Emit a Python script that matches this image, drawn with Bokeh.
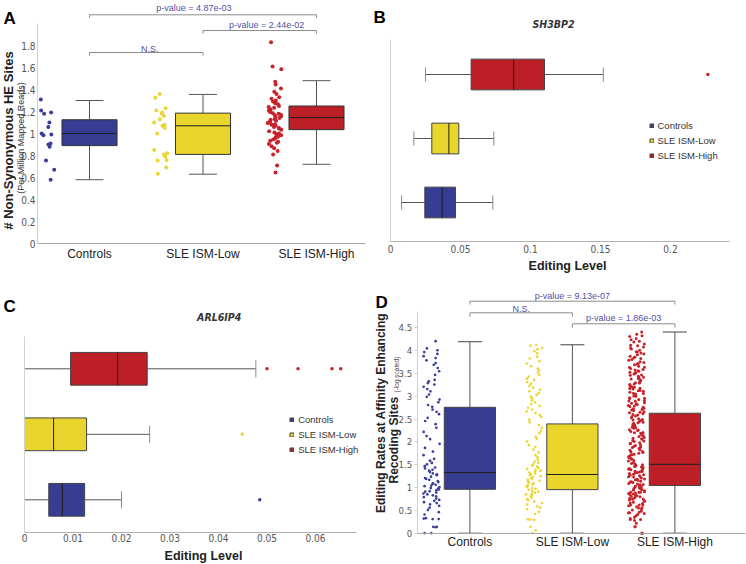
import numpy as np
from bokeh.plotting import figure
from bokeh.models import (FixedTicker, Label, Legend, LegendItem, ColumnDataSource, Range1d,
                          LinearAxis)
from bokeh.layouts import column, row
from bokeh.transform import jitter
from bokeh.embed import file_html
from bokeh.resources import INLINE

# ------------------------------------------------------------------ data
groups = ["Controls", "SLE ISM-Low", "SLE ISM-High"]
group_pos = [1, 2, 3]
box_colors = ["#363d93", "#e9d52c", "#bc2026"]
dot_colors = ["#3b3f99", "#ecd634", "#c8222a"]

# Panel A: non-synonymous HE sites per million mapped reads
a_yticks = [0, 0.2, 0.4, 0.6, 0.8, 1.0, 1.2, 1.4, 1.6, 1.8]
a_ytick_labels = ["0", "0.2", "0.4", "0.6", "0.8", "1", "1.2", "1.4", "1.6", "1.8"]
a_lo = [0.58, 0.63, 0.72]
a_q1 = [0.89, 0.81, 1.035]
a_med = [1.0, 1.07, 1.145]
a_q3 = [1.125, 1.185, 1.25]
a_hi = [1.30, 1.355, 1.48]
a_ctrl = [1.31, 1.19, 1.18, 1.21, 1.10, 1.06, 1.0, 0.99, 0.985, 0.88, 0.90, 0.91, 0.755, 0.67, 0.58]
a_low = [1.36, 1.325, 1.23, 1.21, 1.19, 1.18, 1.16, 1.13, 1.10, 1.08, 1.07, 1.05, 1.0,
         0.85, 0.82, 0.81, 0.79, 0.76, 0.755, 0.69, 0.635]
a_high = [1.83, 1.61, 1.585, 1.47, 1.445, 1.41, 1.38, 1.36, 1.33, 1.315, 1.30, 1.29, 1.275,
          1.265, 1.25, 1.24, 1.235, 1.22, 1.21, 1.20, 1.195, 1.185, 1.18, 1.17, 1.165, 1.155,
          1.15, 1.14, 1.13, 1.125, 1.115, 1.11, 1.10, 1.095, 1.085, 1.08, 1.07, 1.06, 1.05,
          1.045, 1.035, 1.02, 1.01, 1.0, 0.995, 0.985, 0.97, 0.965, 0.955, 0.945, 0.935,
          0.925, 0.915, 0.905, 0.885, 0.865, 0.84, 0.81, 0.71, 0.645]
a_pvalues = ["p-value = 4.87e-03", "p-value = 2.44e-02", "N.S."]

# Panel B: SH3BP2 editing level
b_xticks = [0, 0.05, 0.1, 0.15, 0.2]
b_xtick_labels = ["0", "0.05", "0.1", "0.15", "0.2"]
b_lo = [0.0079, 0.0167, 0.025]
b_q1 = [0.0245, 0.0295, 0.0576]
b_med = [0.0369, 0.0417, 0.088]
b_q3 = [0.0464, 0.0488, 0.110]
b_hi = [0.0731, 0.0738, 0.152]
b_out_group = [3]
b_out_val = [0.2267]

# Panel C: ARL6IP4 editing level
c_xticks = [0, 0.01, 0.02, 0.03, 0.04, 0.05, 0.06]
c_xtick_labels = ["0", "0.01", "0.02", "0.03", "0.04", "0.05", "0.06"]
c_lo = [0.0, 0.0, 0.0]
c_q1 = [0.0050, 0.0, 0.0095]
c_med = [0.0078, 0.0060, 0.0192]
c_q3 = [0.0124, 0.0128, 0.0253]
c_hi = [0.0200, 0.0258, 0.0477]
c_out_group = [1, 2, 3, 3, 3, 3]
c_out_val = [0.0485, 0.0449, 0.0500, 0.0564, 0.0634, 0.0652]

# Panel D: editing rates at affinity enhancing recoding sites (-log scaled)
d_yticks = [0, 0.5, 1, 1.5, 2, 2.5, 3, 3.5, 4, 4.5]
d_ytick_labels = ["0", "0.5", "1", "1.5", "2", "2.5", "3", "3.5", "4", "4.5"]
d_lo = [0.0, 0.0, 0.0]
d_q1 = [0.962, 0.955, 1.045]
d_med = [1.33, 1.287, 1.51]
d_q3 = [2.76, 2.396, 2.63]
d_hi = [4.197, 4.13, 4.41]
d_ctrl = [4.21, 4.05, 4.01, 3.97, 3.93, 3.88, 3.84, 3.79, 3.73, 3.69, 3.62, 3.55, 3.47,
          3.36, 3.33, 3.29, 3.26, 3.21, 3.16, 3.11, 3.04, 2.99, 2.93, 2.87, 2.81, 2.77, 2.71,
          2.66, 2.61, 2.53, 2.46, 2.39, 2.31, 2.22, 2.13, 2.06, 1.96, 1.87, 1.79, 1.71,
          1.63, 1.59, 1.54, 1.51, 1.47, 1.44, 1.42, 1.39, 1.37, 1.34, 1.31, 1.29, 1.27, 1.24,
          1.21, 1.19, 1.17, 1.14, 1.12, 1.09, 1.08, 1.06, 1.04, 1.03, 1.01, 0.99, 0.98, 0.96,
          0.94, 0.92, 0.91, 0.89, 0.87, 0.85, 0.83, 0.81, 0.79, 0.76, 0.73, 0.71, 0.68, 0.66,
          0.63, 0.60, 0.56, 0.51, 0.46, 0.41, 0.33, 0.32, 0.31, 0.31, 0.14, 0.14, 0.13, 0.0, 0.0]
d_low = [4.13, 4.11, 4.06, 4.03, 3.99, 3.94, 3.87, 3.83, 3.77, 3.72, 3.66, 3.61, 3.57, 3.52,
         3.47, 3.43, 3.39, 3.36, 3.31, 3.28, 3.23, 3.19, 3.15, 3.11, 3.07, 3.03, 2.99, 2.96,
         2.91, 2.87, 2.83, 2.79, 2.75, 2.71, 2.67, 2.63, 2.59, 2.55, 2.49, 2.43, 2.37, 2.31,
         2.24, 2.19, 2.11, 2.07, 2.01, 1.93, 1.89, 1.83, 1.77, 1.71, 1.66, 1.61, 1.57, 1.54,
         1.51, 1.48, 1.46, 1.43, 1.41, 1.39, 1.37, 1.35, 1.33, 1.31, 1.29, 1.27, 1.25, 1.23,
         1.21, 1.19, 1.17, 1.15, 1.13, 1.11, 1.09, 1.07, 1.05, 1.03, 1.01, 0.99, 0.97, 0.95,
         0.93, 0.91, 0.89, 0.87, 0.85, 0.83, 0.81, 0.78, 0.75, 0.72, 0.69, 0.66, 0.63, 0.59,
         0.56, 0.53, 0.47, 0.42, 0.31, 0.30, 0.30, 0.29, 0.14, 0.06, 0.0]
d_high = [4.41, 4.36, 4.31, 4.33, 4.27, 4.24, 4.19, 4.21, 4.15, 4.12, 4.08, 4.11, 4.04, 4.06,
          4.01, 3.98, 3.95, 3.97, 3.91, 3.93, 3.88, 3.86, 3.83, 3.84, 3.79, 3.81, 3.76, 3.72,
          3.74, 3.69, 3.71, 3.66, 3.63, 3.64, 3.61, 3.58, 3.59, 3.56, 3.53, 3.55, 3.51, 3.52,
          3.49, 3.47, 3.46, 3.44, 3.42, 3.41, 3.38, 3.39, 3.36, 3.34, 3.35, 3.31, 3.29, 3.30,
          3.27, 3.25, 3.26, 3.22, 3.20, 3.21, 3.18, 3.16, 3.17, 3.13, 3.11, 3.12, 3.09, 3.07,
          3.05, 3.06, 3.02, 3.00, 3.01, 2.97, 2.95, 2.96, 2.93, 2.91, 2.89, 2.90, 2.86, 2.84,
          2.85, 2.82, 2.80, 2.78, 2.79, 2.76, 2.74, 2.73, 2.71, 2.69, 2.70, 2.66, 2.64, 2.65,
          2.62, 2.60, 2.59, 2.57, 2.55, 2.53, 2.51, 2.49, 2.47, 2.48, 2.45, 2.43, 2.41, 2.42,
          2.38, 2.36, 2.37, 2.34, 2.32, 2.30, 2.31, 2.27, 2.25, 2.26, 2.23, 2.21, 2.19, 2.20,
          2.16, 2.14, 2.15, 2.12, 2.10, 2.08, 2.06, 2.07, 2.03, 2.01, 2.02, 1.98, 1.96, 1.97,
          1.94, 1.92, 1.90, 1.88, 1.89, 1.86, 1.84, 1.82, 1.83, 1.79, 1.77, 1.78, 1.75, 1.73,
          1.71, 1.72, 1.68, 1.66, 1.67, 1.64, 1.62, 1.60, 1.58, 1.55, 1.53, 1.51, 1.49, 1.50,
          1.47, 1.46, 1.44, 1.45, 1.42, 1.41, 1.39, 1.40, 1.37, 1.36, 1.34, 1.35, 1.33, 1.31,
          1.32, 1.29, 1.28, 1.26, 1.27, 1.24, 1.23, 1.21, 1.22, 1.19, 1.18, 1.16, 1.17, 1.14,
          1.13, 1.11, 1.12, 1.09, 1.08, 1.06, 1.07, 1.04, 1.03, 1.01, 1.02, 0.99, 0.98, 0.96,
          0.97, 0.94, 0.93, 0.91, 0.90, 0.90, 0.90, 0.88, 0.87, 0.85, 0.86, 0.83, 0.82, 0.80,
          0.81, 0.78, 0.76, 0.75, 0.75, 0.75, 0.73, 0.71, 0.70, 0.68, 0.66, 0.65, 0.62, 0.62,
          0.62, 0.60, 0.58, 0.56, 0.55, 0.53, 0.51, 0.48, 0.46, 0.45, 0.45, 0.43, 0.41, 0.38,
          0.35, 0.32, 0.30, 0.30, 0.28, 0.22, 0.14, 0.14, 0.0, 0.0, 0.0]
d_pvalues = ["p-value = 9.13e-07", "N.S.", "p-value = 1.86e-03"]

# ------------------------------------------------------------------ styling helpers
SANS = "Liberation Sans"
NARROW = "Liberation Sans Narrow, DejaVu Sans Condensed, Roboto Condensed, sans-serif"
TEXT = "#222222"
TICK_TEXT = "#555555"
PCOL = "#5151a3"
BRACKET = "#8c8c8c"


def lin(p0, v0, px_per_unit, flip=False):
    """pixel -> data converter for a linear scale (flip for vertical pixel axis)."""
    s = -1.0 if flip else 1.0
    return lambda px: v0 + s * (px - p0) / px_per_unit


def make_panel(W, H, X, Y):
    """Figure whose frame is its whole canvas; axes are placed with fixed_location."""
    p = figure(width=W, height=H, x_range=Range1d(X(0), X(W)), y_range=Range1d(Y(H), Y(0)),
               min_border=0, min_border_left=0, min_border_right=0, min_border_top=0,
               min_border_bottom=0, x_axis_location=None, y_axis_location=None,
               output_backend="svg", toolbar_location=None, tools="")
    p.outline_line_color = None
    for gr in p.grid:
        gr.visible = False
    p.background_fill_color = "white"
    p.border_fill_color = "white"
    return p


def add_axis(p, side, loc, bounds, ticks, labels, line_color, font, size, color,
             tick_out=0, standoff=3):
    ax = LinearAxis(fixed_location=loc, bounds=bounds)
    ax.ticker = FixedTicker(ticks=ticks, minor_ticks=[])
    ax.major_label_overrides = {t: l for t, l in zip(ticks, labels)}
    ax.axis_line_color = line_color
    ax.axis_line_width = 1
    ax.major_tick_in = 0
    ax.major_tick_out = tick_out
    ax.major_tick_line_color = line_color if tick_out else None
    ax.minor_tick_line_color = None
    ax.major_label_text_font = font
    ax.major_label_text_font_size = size
    ax.major_label_text_color = color
    ax.major_label_standoff = standoff
    p.add_layout(ax, side)
    return ax


def lab(p, X, Y, px, py, text, size, style="normal", font=SANS, color=TEXT, angle=0.0,
        align="center", baseline="middle"):
    p.add_layout(Label(x=X(px), y=Y(py), text=text, text_font=font, text_font_size=size,
                       text_font_style=style, text_color=color, angle=angle,
                       angle_units="rad", text_align=align, text_baseline=baseline))


def vertical_boxes(p, lo, q1, med, q3, hi, width, cap, line_col, whisk_col, cap_col):
    x = np.array(group_pos, dtype=float)
    src = ColumnDataSource(dict(x=x, lo=lo, q1=q1, med=med, q3=q3, hi=hi, color=box_colors,
                                l=x - width / 2, r=x + width / 2, cl=x - cap / 2, cr=x + cap / 2))
    p.segment(x0="x", y0="q3", x1="x", y1="hi", source=src, line_color=whisk_col, line_width=1)
    p.segment(x0="x", y0="lo", x1="x", y1="q1", source=src, line_color=whisk_col, line_width=1)
    p.segment(x0="cl", y0="hi", x1="cr", y1="hi", source=src, line_color=cap_col, line_width=1)
    p.segment(x0="cl", y0="lo", x1="cr", y1="lo", source=src, line_color=cap_col, line_width=1)
    p.vbar(x="x", width=width, bottom="q1", top="q3", source=src, fill_color="color",
           line_color=line_col, line_width=1)
    p.segment(x0="l", y0="med", x1="r", y1="med", source=src, line_color="#1e1e1e", line_width=1)


def horizontal_boxes(p, lo, q1, med, q3, hi, height, cap, line_col, whisk_col, cap_col):
    y = np.array(group_pos, dtype=float)
    src = ColumnDataSource(dict(y=y, lo=lo, q1=q1, med=med, q3=q3, hi=hi, color=box_colors,
                                b=y - height / 2, t=y + height / 2, cb=y - cap / 2, ct=y + cap / 2))
    p.segment(x0="q3", y0="y", x1="hi", y1="y", source=src, line_color=whisk_col, line_width=1)
    p.segment(x0="lo", y0="y", x1="q1", y1="y", source=src, line_color=whisk_col, line_width=1)
    p.segment(x0="hi", y0="cb", x1="hi", y1="ct", source=src, line_color=cap_col, line_width=1)
    p.segment(x0="lo", y0="cb", x1="lo", y1="ct", source=src, line_color=cap_col, line_width=1)
    r = p.hbar(y="y", height=height, left="q1", right="q3", source=src, fill_color="color",
               line_color=line_col, line_width=1)
    p.segment(x0="med", y0="b", x1="med", y1="t", source=src, line_color="#1e1e1e", line_width=1)
    return r


def strip(p, values_per_group, sizes, jit_width, jit_mean):
    xs, ys, cs, ss = [], [], [], []
    for gi, vals in enumerate(values_per_group):
        xs += [group_pos[gi]] * len(vals)
        ys += list(vals)
        cs += [dot_colors[gi]] * len(vals)
        ss += [sizes[gi]] * len(vals)
    src = ColumnDataSource(dict(x=xs, y=ys, c=cs, s=ss))
    p.scatter(x=jitter("x", width=jit_width, mean=jit_mean), y="y", source=src, size="s",
              fill_color="c", line_color=None, marker="circle")


def bracket(p, Y, xa, xb, py_line, py_tick, py_text, x_text, text):
    yl, yt = Y(py_line), Y(py_tick)
    p.segment(x0=[xa, xa, xb], y0=[yl, yl, yl], x1=[xb, xa, xb], y1=[yl, yt, yt],
              line_color=BRACKET, line_width=1)
    p.add_layout(Label(x=x_text, y=Y(py_text), text=text, text_font=SANS, text_font_size="9px",
                       text_color=PCOL, text_align="center", text_baseline="middle"))


def legend(p, renderer, loc):
    items = [LegendItem(label=g, renderers=[renderer], index=i) for i, g in enumerate(groups)]
    lg = Legend(items=items, location=loc, glyph_width=5, glyph_height=5, label_height=12,
                label_width=10, spacing=3, padding=0, margin=0, label_standoff=4,
                border_line_color=None, background_fill_alpha=0,
                label_text_font=SANS, label_text_font_size="9.5px", label_text_color="#333333")
    p.add_layout(lg)


# ------------------------------------------------------------------ panel A (0,0 370x280)
XA = lin(89, 1.0, 113.5)
YA = lin(243, 0.0, 110.0, flip=True)
pA = make_panel(370, 280, XA, YA)
add_axis(pA, "below", 0.0, (XA(37), XA(365)), group_pos, groups, "#a8a8a8", SANS, "12px",
         TEXT, 0, 3)
add_axis(pA, "left", XA(37), (0, 2.0), a_yticks, a_ytick_labels, "#cfcfcf", NARROW, "10px",
         TICK_TEXT, 0, 2)
strip(pA, [a_ctrl, a_low, a_high], [4, 4, 4], 0.12, -0.37)
vertical_boxes(pA, a_lo, a_q1, a_med, a_q3, a_hi, 0.485, 0.246, "#333333", "#555555", "#555555")
bracket(pA, YA, 1, 3, 14.3, 17.3, 7, 1.92, a_pvalues[0])
bracket(pA, YA, 2, 3, 30, 33, 24, 2.56, a_pvalues[1])
bracket(pA, YA, 1, 2, 52, 55, 48, 1.53, a_pvalues[2])
lab(pA, XA, YA, 3, 18.3, "A", "17px", "bold", color="#000000", align="left", baseline="alphabetic")
lab(pA, XA, YA, 7.5, 140, "# Non-Synonymous HE Sites", "13px", "bold", angle=np.pi / 2)
lab(pA, XA, YA, 20.5, 137.5, "(Per Million Mapped Reads)", "9px", color="#333333", angle=np.pi / 2)

# ------------------------------------------------------------------ panel B (370,0 376x280)
XB = lin(20, 0.0, 1400.0)
YB = lin(202, 1.0, 64.0, flip=True)
pB = make_panel(376, 280, XB, YB)
add_axis(pB, "below", YB(241), (0, XB(359)), b_xticks, b_xtick_labels, "#b0b0b0", NARROW,
         "10px", TICK_TEXT, 0, 3)
add_axis(pB, "left", 0.0, (YB(241), YB(39)), [], [], "#d2d2d2", NARROW, "10px", TICK_TEXT, 0, 2)
rB = horizontal_boxes(pB, b_lo, b_q1, b_med, b_q3, b_hi, 0.48, 0.22, "#444444", "#555555", "#8a8a8a")
pB.scatter(x=b_out_val, y=b_out_group, size=3.5, fill_color=dot_colors[2], line_color=None)
legend(pB, rB, (278.5, 118.3))
lab(pB, XB, YB, 3, 17, "B", "17px", "bold", color="#000000", align="left", baseline="alphabetic")
lab(pB, XB, YB, 183, 23.7, "SH3BP2", "10.5px", "bold italic", font=NARROW, color="#333333")
lab(pB, XB, YB, 197, 265, "Editing Level", "12.5px", "bold")

# ------------------------------------------------------------------ panel C (0,280 370x284)
XC = lin(24, 0.0, 4850.0)
YC = lin(219.3, 1.0, 65.5, flip=True)
pC = make_panel(370, 284, XC, YC)
add_axis(pC, "below", YC(251.7), (0, XC(356)), c_xticks, c_xtick_labels, "#b0b0b0", NARROW,
         "10px", TICK_TEXT, 0, 2)
add_axis(pC, "left", 0.0, (YC(251.7), YC(56)), [], [], "#d2d2d2", NARROW, "10px", TICK_TEXT, 0, 2)
rC = horizontal_boxes(pC, c_lo, c_q1, c_med, c_q3, c_hi, 0.5, 0.26, "#444444", "#555555", "#8a8a8a")
pC.scatter(x=c_out_val, y=c_out_group, size=3.5,
           fill_color=[dot_colors[g - 1] for g in c_out_group], line_color=None)
legend(pC, rC, (289.2, 109.0))
lab(pC, XC, YC, 3, 26, "C", "17px", "bold", color="#000000", align="left", baseline="alphabetic")
lab(pC, XC, YC, 218.7, 36, "ARL6IP4", "10.5px", "bold italic", font=NARROW, color="#333333")
lab(pC, XC, YC, 203, 275, "Editing Level", "12.5px", "bold")

# ------------------------------------------------------------------ panel D (370,280 376x284)
XD = lin(99.4, 1.0, 102.5)
YD = lin(252.7, 0.0, 45.62, flip=True)
pD = make_panel(376, 284, XD, YD)
add_axis(pD, "below", 0.0, (XD(46.7), XD(375)), group_pos, groups, "#a8a8a8", SANS, "12px",
         TEXT, 0, 2)
add_axis(pD, "left", XD(46.7), (0, 4.85), d_yticks, d_ytick_labels, "#cfcfcf", NARROW, "9.5px",
         TICK_TEXT, 3, 2)
strip(pD, [d_ctrl, d_low, d_high], [2.7, 2.7, 3.0], 0.16, -0.375)
vertical_boxes(pD, d_lo, d_q1, d_med, d_q3, d_hi, 0.5, 0.234, "#444444", "#555555", "#444444")
bracket(pD, YD, 1, 3, 20.7, 24, 15, 2.0, d_pvalues[0])
bracket(pD, YD, 1, 2, 32.3, 36, 28.3, 1.5, d_pvalues[1])
bracket(pD, YD, 2, 3, 43.3, 47, 37.3, 2.5, d_pvalues[2])
lab(pD, XD, YD, 5, 21.7, "D", "17px", "bold", color="#000000", align="left", baseline="alphabetic")
lab(pD, XD, YD, 10.8, 132.5, "Editing Rates at Affinity Enhancing", "12px", "bold", angle=np.pi / 2)
lab(pD, XD, YD, 23.8, 203, "Recoding Sites", "12px", "bold", angle=np.pi / 2, align="left")
lab(pD, XD, YD, 25.7, 112, "(-log scaled)", "6.5px", color="#444444", angle=np.pi / 2, align="left")

layout = column(row(pA, pB), row(pC, pD))
open("out.html", "w").write(file_html(layout, INLINE))
